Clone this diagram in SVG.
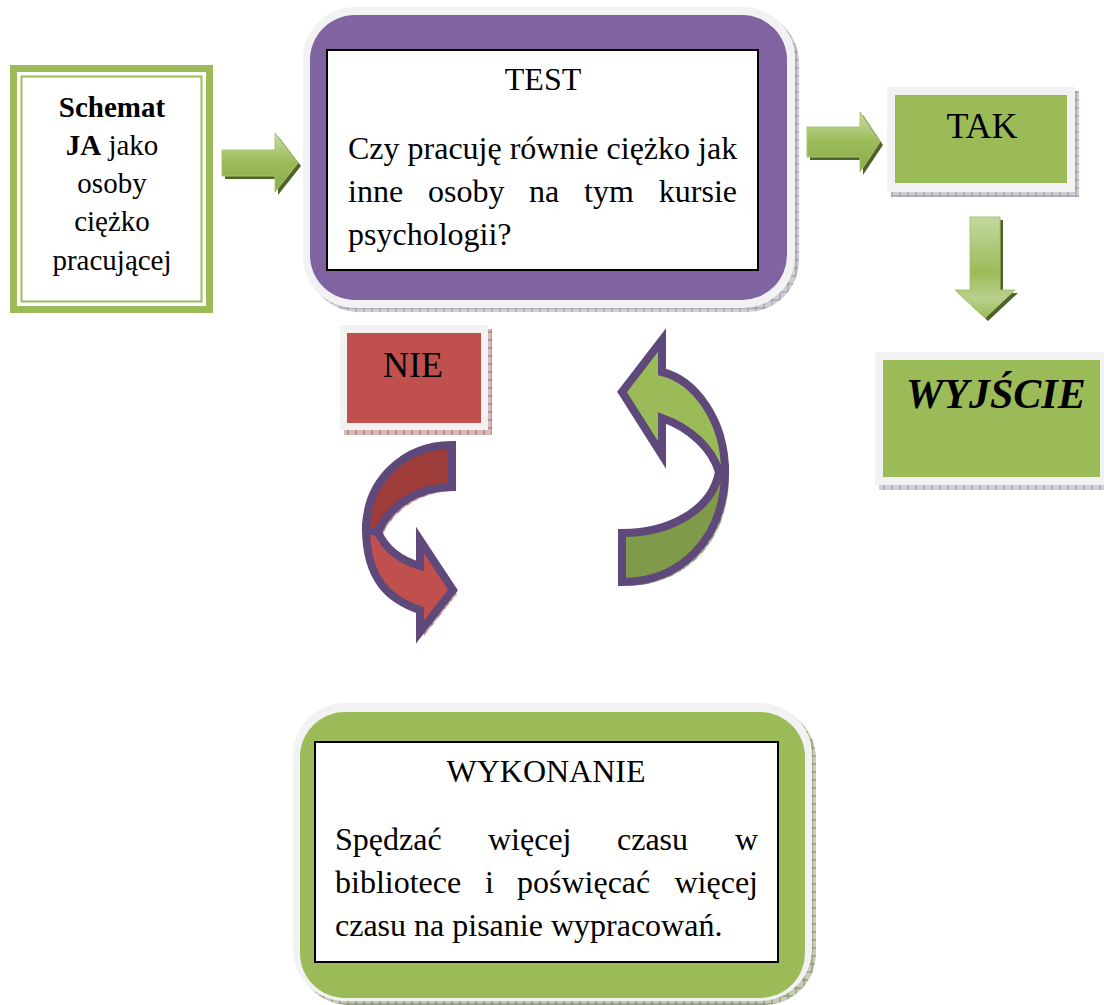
<svg xmlns="http://www.w3.org/2000/svg" width="1104" height="1005" viewBox="0 0 1104 1005">
<defs>
<style>
text{font-family:"Liberation Serif","Times New Roman",serif;fill:#000}
.t32{font-size:32px}
.t29{font-size:29px}
.t36{font-size:36px}
.frame{fill:#F2F2F2}
.inner{fill:#fff;stroke:#000;stroke-width:2}
.cv{stroke:#5F497A;stroke-width:8;stroke-linejoin:miter;stroke-miterlimit:10}
</style>
<pattern id="hatch" width="8" height="8" patternUnits="userSpaceOnUse">
<rect width="8" height="8" fill="#D0CCD4"/>
<path d="M0 4H8M4 0V8" stroke="#8A8790" stroke-width="0.8"/>
</pattern>
<pattern id="hatchR" width="8" height="8" patternUnits="userSpaceOnUse">
<rect width="8" height="8" fill="#D8B8B8"/>
<path d="M0 4H8M4 0V8" stroke="#8A5A5A" stroke-width="0.8"/>
</pattern>
<pattern id="hatchG" width="8" height="8" patternUnits="userSpaceOnUse">
<rect width="8" height="8" fill="#C4CCB4"/>
<path d="M0 4H8M4 0V8" stroke="#6F7A5A" stroke-width="0.8"/>
</pattern>
<linearGradient id="gH" x1="0" y1="0" x2="0" y2="1">
<stop offset="0" stop-color="#C9DBA4"/>
<stop offset="0.5" stop-color="#9BBB59"/>
<stop offset="1" stop-color="#8CAB4C"/>
</linearGradient>
<linearGradient id="gV" x1="0" y1="0" x2="0" y2="1">
<stop offset="0" stop-color="#C5D8A0"/>
<stop offset="0.55" stop-color="#9BBB59"/>
<stop offset="0.8" stop-color="#B9D08C"/>
<stop offset="1" stop-color="#9BBB59"/>
</linearGradient>
</defs>
<rect width="1104" height="1005" fill="#fff"/>

<g id="schemat">
<rect x="13.5" y="68.5" width="196" height="241" fill="#fff" stroke="#9BBB59" stroke-width="7"/>
<rect x="21.5" y="76.5" width="180" height="225" fill="none" stroke="#9BBB59" stroke-width="2"/>
<text class="t29" x="112" y="117" text-anchor="middle" font-weight="bold">Schemat</text>
<text class="t29" x="112" y="155" text-anchor="middle"><tspan font-weight="bold">JA</tspan> jako</text>
<text class="t29" x="112" y="193" text-anchor="middle">osoby</text>
<text class="t29" x="112" y="231" text-anchor="middle">ciężko</text>
<text class="t29" x="112" y="270" text-anchor="middle">pracującej</text>
</g>

<g id="test">
<rect x="307" y="11" width="492" height="301" rx="52" fill="url(#hatch)"/>
<rect x="303" y="7" width="492" height="301" rx="52" class="frame"/>
<rect x="310" y="15" width="477" height="285" rx="45" fill="#8064A2"/>
<rect x="327" y="50" width="431" height="220" class="inner"/>
<text class="t32" x="543" y="90" text-anchor="middle">TEST</text>
<text class="t32" x="348" y="159">Czy pracuję równie ciężko jak</text>
<text class="t32" y="202"><tspan x="348">inne</tspan><tspan x="428">osoby</tspan><tspan x="529">na</tspan><tspan x="584">tym</tspan><tspan x="737" text-anchor="end">kursie</tspan></text>
<text class="t32" x="348" y="245">psychologii?</text>
</g>

<g id="tak">
<rect x="891" y="91" width="188" height="106" fill="url(#hatch)"/>
<rect x="887" y="87" width="188" height="105" class="frame"/>
<rect x="895" y="95" width="172" height="88" fill="#9BBB59"/>
<text class="t36" x="982" y="138" text-anchor="middle">TAK</text>
</g>

<g id="wyjscie">
<rect x="879" y="356" width="229" height="134" fill="url(#hatch)"/>
<rect x="875" y="352" width="229" height="133" class="frame"/>
<rect x="883" y="360" width="217" height="117" fill="#9BBB59"/>
<text x="906" y="408" font-size="42" font-weight="bold" font-style="italic">WYJŚCIE</text>
</g>

<g id="nie">
<rect x="344" y="329" width="148" height="106" fill="url(#hatchR)"/>
<rect x="340" y="325" width="148" height="105" class="frame"/>
<rect x="347" y="333" width="134" height="90" fill="#C0504D"/>
<text class="t36" x="413" y="377" text-anchor="middle">NIE</text>
</g>

<g id="wykonanie">
<rect x="297" y="707" width="519" height="298" rx="52" fill="url(#hatchG)"/>
<rect x="293" y="703" width="519" height="298" rx="52" class="frame"/>
<rect x="300" y="712" width="505" height="286" rx="45" fill="#9BBB59"/>
<rect x="315" y="742" width="463" height="220" class="inner"/>
<text class="t32" x="546" y="782" text-anchor="middle">WYKONANIE</text>
<text class="t32" y="850"><tspan x="335">Spędzać</tspan><tspan x="488">więcej</tspan><tspan x="617">czasu</tspan><tspan x="758" text-anchor="end">w</tspan></text>
<text class="t32" y="893"><tspan x="335">bibliotece</tspan><tspan x="485">i</tspan><tspan x="517">poświęcać</tspan><tspan x="758" text-anchor="end">więcej</tspan></text>
<text class="t32" x="335" y="936">czasu na pisanie wypracowań.</text>
</g>

<g id="connectors">
<!-- Schemat -> TEST -->
<path d="M225 153H278V136L301 166L278 195V179H225Z" fill="#4F6228"/>
<path d="M222 150H275V133L298 163L275 192V176H222Z" fill="url(#gH)" stroke="#A9C46E" stroke-width="1"/>
<!-- TEST -> TAK -->
<path d="M810 130H863V115L883 145L863 175V160H810Z" fill="#4F6228"/>
<path d="M807 127H860V112L880 142L860 172V157H807Z" fill="url(#gH)" stroke="#A9C46E" stroke-width="1"/>
<!-- TAK -> WYJSCIE -->
<path d="M973 220H1003V293H1018L988 321L958 293H973Z" fill="#4F6228"/>
<path d="M970 217H1000V290H1015L985 318L955 290H970Z" fill="url(#gV)" stroke="#A9C46E" stroke-width="1"/>
<!-- NIE curved arrow (red) -->
<g transform="translate(4,4)">
<path d="M452,445 L452,487 C418,487 390,505 378,532 C385,548 400,560 420,566 L420,540 L453,590 L420,632 L420,610 C390,600 366,580 366,530 C366,480 405,445 452,445 Z" fill="url(#hatchR)"/>
</g>
<path d="M366,528 C366,580 390,600 420,610 L420,632 L453,590 L420,540 L420,566 C400,560 385,548 378,532 Z" fill="#C0504D" class="cv"/>
<path d="M452,445 L452,487 C418,487 390,505 378,532 L366,530 C366,480 405,445 452,445 Z" fill="#9E3D3A" class="cv"/>
<!-- back to TEST curved arrow (green) -->
<g transform="translate(4,4)">
<path d="M662,372 L662,340 L622,392 L662,455 L662,418 C690,428 712,448 719,472 C712,510 670,533 622,533 L622,582 C680,582 725,540 725,472 C725,420 695,380 662,372 Z" fill="url(#hatchG)"/>
</g>
<path d="M725,470 C725,540 680,582 622,582 L622,533 C670,533 712,510 719,472 Z" fill="#7F9A48" class="cv"/>
<path d="M662,372 L662,340 L622,392 L662,455 L662,418 C690,428 712,448 719,472 L725,472 C725,420 695,380 662,372 Z" fill="#9BBB59" class="cv"/>
</g>
</svg>
